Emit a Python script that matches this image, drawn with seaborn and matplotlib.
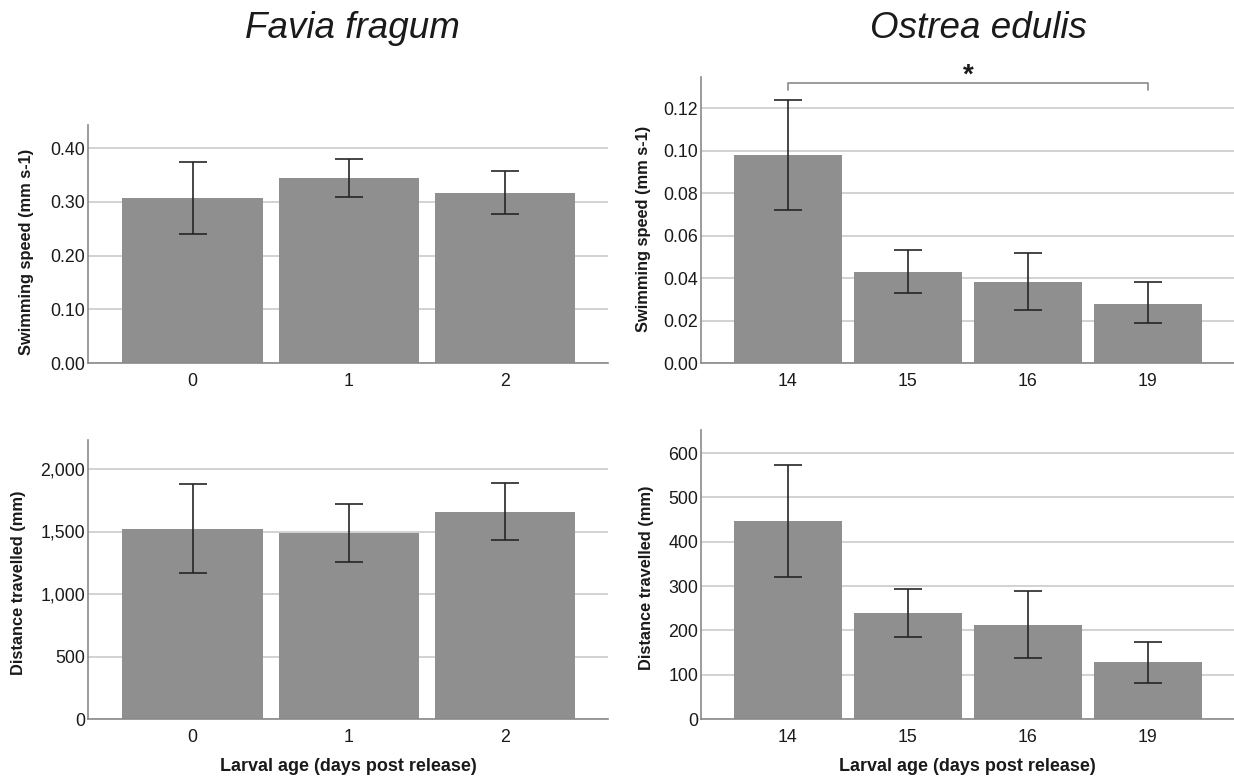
import matplotlib
matplotlib.use("Agg")
import matplotlib.pyplot as plt
import seaborn as sns
import numpy as np
from matplotlib.ticker import FixedLocator, FuncFormatter

# ---- data ----
favia_age = ["0", "1", "2"]
favia_speed = [0.307, 0.344, 0.317]
favia_speed_lo = [0.240, 0.309, 0.277]
favia_speed_hi = [0.375, 0.380, 0.357]
favia_dist = [1520, 1487, 1655]
favia_dist_lo = [1165, 1255, 1430]
favia_dist_hi = [1880, 1722, 1888]

ostrea_age = ["14", "15", "16", "19"]
ostrea_speed = [0.098, 0.043, 0.038, 0.028]
ostrea_speed_lo = [0.072, 0.033, 0.025, 0.019]
ostrea_speed_hi = [0.124, 0.053, 0.052, 0.038]
ostrea_dist = [446, 240, 212, 128]
ostrea_dist_lo = [320, 186, 138, 82]
ostrea_dist_hi = [572, 294, 288, 174]

titles = ["Favia fragum", "Ostrea edulis"]
ylab_speed = "Swimming speed (mm s-1)"
ylab_dist = "Distance travelled (mm)"
xlab = "Larval age (days post release)"

sns.set_theme(style="white")
plt.rcParams['font.family'] = ['Liberation Sans', 'DejaVu Sans']

BAR = "#8f8f8f"
GRID = "#cfcfcf"
SPINE = "#8a8a8a"
TXT = "#1a1a1a"

fig = plt.figure(figsize=(12.34, 7.8), dpi=100)
W, H = 1234, 780

def mkax(l, r, t, b):
    return fig.add_axes([l / W, 1 - b / H, (r - l) / W, (b - t) / H])

ax_tl = mkax(88, 608, 125, 363)
ax_tr = mkax(701, 1234, 77, 363)
ax_bl = mkax(88, 608, 440, 719)
ax_br = mkax(701, 1234, 430, 719)

def panel(ax, cats, vals, lo, hi, ylim, ticks, fmt, ylabel, xlabel, xlim, ylab_xy):
    sns.barplot(x=cats, y=vals, order=cats, color=BAR, saturation=1, width=0.9,
                errorbar=None, ax=ax, zorder=2, edgecolor="none")
    v = np.array(vals); l = np.array(lo); h = np.array(hi)
    ax.errorbar(np.arange(len(cats)), v, yerr=[v - l, h - v], fmt="none",
                ecolor="#262626", elinewidth=1.2, capsize=10, capthick=1.2, zorder=3)
    ax.set_ylim(*ylim)
    ax.set_xlim(*xlim)
    ax.yaxis.set_major_locator(FixedLocator(ticks))
    ax.yaxis.set_major_formatter(FuncFormatter(fmt))
    ax.grid(axis="y", color=GRID, linewidth=1.3, zorder=0)
    ax.set_axisbelow(True)
    for s in ["top", "right"]:
        ax.spines[s].set_visible(False)
    for s in ["left", "bottom"]:
        ax.spines[s].set_color(SPINE)
        ax.spines[s].set_linewidth(1.2)
    ax.tick_params(axis="both", length=0, labelsize=12.8, colors=TXT)
    ax.tick_params(axis="y", pad=2)
    ax.tick_params(axis="x", pad=7)
    ax.set_ylabel(ylabel, fontsize=11.8, fontweight="bold", color=TXT)
    ax.yaxis.set_label_coords(*ylab_xy)
    if xlabel:
        ax.set_xlabel(xlabel, fontsize=13, fontweight="bold", color=TXT, labelpad=9)
    else:
        ax.set_xlabel("")

f2 = lambda x, p: f"{x:.2f}"
fc = lambda x, p: f"{int(round(x)):,}"

panel(ax_tl, favia_age, favia_speed, favia_speed_lo, favia_speed_hi,
      (0, 0.443), [0, 0.1, 0.2, 0.3, 0.4], f2, ylab_speed, None, (-0.67, 2.66), (-0.104, 0.466))
panel(ax_tr, ostrea_age, ostrea_speed, ostrea_speed_lo, ostrea_speed_hi,
      (0, 0.1346), [0, 0.02, 0.04, 0.06, 0.08, 0.10, 0.12], f2, ylab_speed, None, (-0.725, 3.72), (-0.094, 0.47))
panel(ax_bl, favia_age, favia_dist, favia_dist_lo, favia_dist_hi,
      (0, 2232), [0, 500, 1000, 1500, 2000], fc, ylab_dist, xlab, (-0.67, 2.66), (-0.119, 0.487))
panel(ax_br, ostrea_age, ostrea_dist, ostrea_dist_lo, ostrea_dist_hi,
      (0, 652), [0, 100, 200, 300, 400, 500, 600], fc, ylab_dist, xlab, (-0.725, 3.72), (-0.088, 0.49))

# significance bracket
yb, yt = 0.1285, 0.1318
ax_tr.plot([0, 0, 3, 3], [yb, yt, yt, yb], color="#8a8a8a", lw=1.2, clip_on=False, zorder=4)
ax_tr.text(1.5, 0.1293, "*", ha="center", va="bottom", fontsize=20, fontweight="bold",
           color=TXT)

fig.text(352 / W, 1 - 38 / H, titles[0], ha="center", va="baseline", fontsize=26.5,
         style="italic", color=TXT)
fig.text(978 / W, 1 - 38 / H, titles[1], ha="center", va="baseline", fontsize=26.5,
         style="italic", color=TXT)

fig.savefig("out.png", dpi=100, facecolor="white")
